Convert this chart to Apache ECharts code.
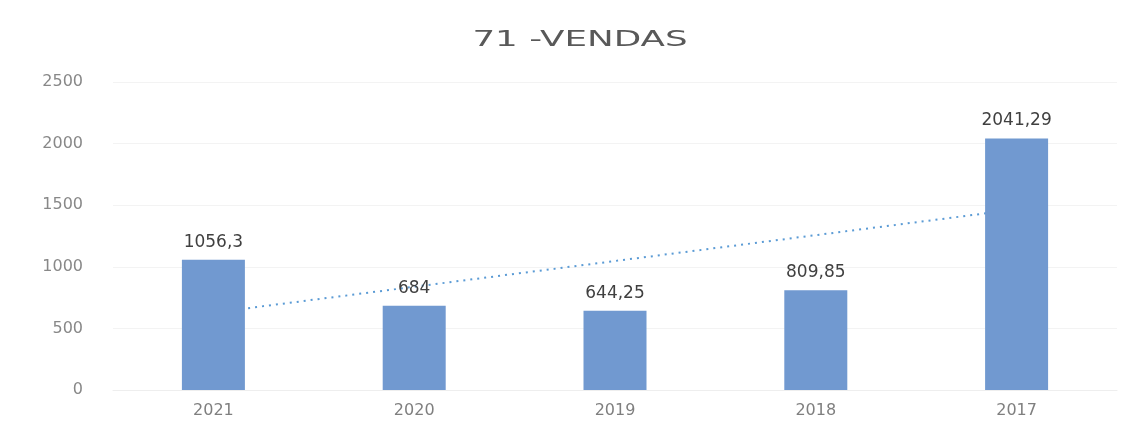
<!DOCTYPE html>
<html>
<head>
<meta charset="utf-8">
<script src="https://cdn.jsdelivr.net/npm/echarts@6/dist/echarts.min.js"></script>
<style>
  html, body { margin: 0; padding: 0; background: #fff; }
  #chart { width: 1140px; height: 432px; }
</style>
</head>
<body>
<div id="chart"></div>
<script>
// values
const years = ['2021', '2020', '2019', '2018', '2017'];
const vendas = [1056.3, 684, 644.25, 809.85, 2041.29];
// linear trendline, as drawn in the picture
const trend = [628, 838, 1047, 1257, 1466];
const yTicks = [0, 500, 1000, 1500, 2000, 2500];

const chart = echarts.init(document.getElementById('chart'));
chart.setOption({
  backgroundColor: '#fff',
  animation: false,
  textStyle: { fontFamily: 'DejaVu Sans' },
  // the picture is stretched sideways, so the title is widened to match
  graphic: [{
    type: 'text',
    x: 580,
    y: 41,
    scaleX: 1.7,
    style: {
      text: '71 -VENDAS',
      font: '21px "DejaVu Sans"',
      fill: '#595959',
      align: 'center',
      verticalAlign: 'middle'
    }
  }],
  grid: { left: 113, right: 23, top: 82, bottom: 42 },
  xAxis: {
    type: 'category',
    data: years,
    axisLine: { show: true, lineStyle: { color: '#eeeeee' } },
    axisTick: { show: false },
    axisLabel: { color: '#7f7f7f', fontSize: 16, margin: 13 }
  },
  yAxis: {
    type: 'value',
    min: yTicks[0],
    max: yTicks[yTicks.length - 1],
    interval: 500,
    axisLine: { show: false },
    axisTick: { show: false },
    splitLine: { lineStyle: { color: '#f3f3f3' } },
    axisLabel: { color: '#888888', fontSize: 16, margin: 30, formatter: v => String(v) }
  },
  series: [
    {
      type: 'line',
      data: trend,
      z: 1,
      symbol: 'none',
      lineStyle: { color: '#5b9bd5', width: 2, type: [2, 5] },
      silent: true
    },
    {
      type: 'bar',
      data: vendas,
      z: 2,
      barWidth: 63,
      itemStyle: { color: '#7199d0' },
      label: {
        show: true,
        position: 'top',
        distance: 9,
        color: '#404040',
        fontSize: 17,
        formatter: p => String(p.value).replace('.', ',')
      }
    }
  ]
});
</script>
</body>
</html>
